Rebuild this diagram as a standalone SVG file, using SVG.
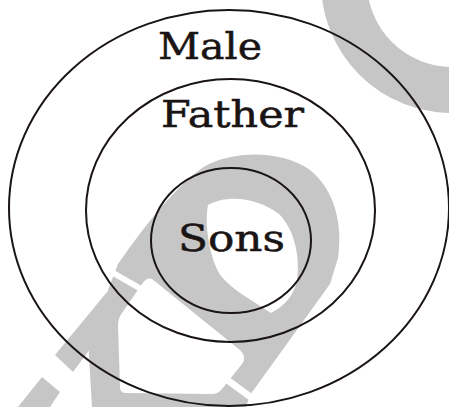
<svg xmlns="http://www.w3.org/2000/svg" width="449" height="407" viewBox="0 0 449 407">
  <style>
    .wm { fill: #c6c6c6; stroke: none; }
    .wmw { fill: #ffffff; stroke: none; }
    .set { fill: none; stroke: #1a1414; stroke-width: 2; }
    .lbl { font-family: "DejaVu Serif", "Liberation Serif", serif; font-size: 37px; fill: #1a1414; stroke: #1a1414; stroke-width: 0.5; }
  </style>
  <rect x="0" y="0" width="449" height="407" fill="#ffffff"/>
  <g id="watermark">
    <circle cx="452" cy="-18" r="108" fill="none" stroke="#c6c6c6" stroke-width="46"/>
    <path class="wm" d="M108,290 L118,264 C135,240 170,190 205,166 C235,150 282,150 310,170 C335,190 343,225 338,258 L330,284 L250,395 L246,407 L92,407 L88,340 L100,322 Z"/>
    <polygon class="wm" points="107,292 124,303 73,372 55,355"/>
    <polygon class="wm" points="42,377 60,392 50,407 18,407"/>
    <path class="wmw" d="M208,205 C228,194 258,198 279,214 C296,231 300,260 297,280 C294,296 284,306 271,313 C252,300 232,290 221,276 C210,260 204,225 208,205 Z"/>
    <path class="wmw" d="M152,279 L240,350 Q247,357 242,364 L222,389 Q218,394 212,394 L126,393 Q120,393 120,387 L118,326 Q118,318 122,313 L142,284 Q147,277 152,279 Z"/>
    <line x1="108" y1="270" x2="148" y2="293" stroke="#ffffff" stroke-width="6"/>
    <line x1="226" y1="379" x2="256" y2="401" stroke="#ffffff" stroke-width="7"/>
  </g>
  <g id="male">
    <ellipse class="set" cx="229" cy="208" rx="220" ry="198"/>
    <text class="lbl" x="158" y="59" textLength="104" lengthAdjust="spacingAndGlyphs">Male</text>
  </g>
  <g id="father">
    <ellipse class="set" cx="230.5" cy="210.5" rx="144.5" ry="131.5"/>
    <text class="lbl" x="161" y="126.5" textLength="143" lengthAdjust="spacingAndGlyphs">Father</text>
  </g>
  <g id="sons">
    <ellipse class="set" cx="231" cy="240.5" rx="80" ry="72.5"/>
    <text class="lbl" x="178" y="251" textLength="107" lengthAdjust="spacingAndGlyphs">Sons</text>
  </g>
  <g id="connectors"/>
</svg>
